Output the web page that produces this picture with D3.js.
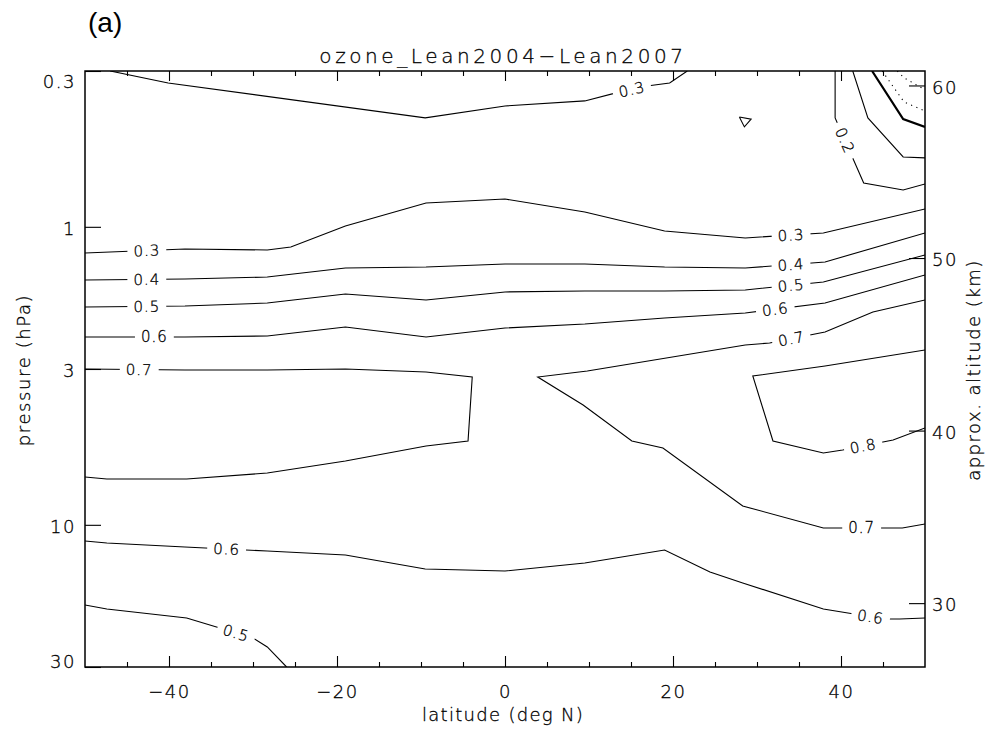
<!DOCTYPE html>
<html>
<head>
<meta charset="utf-8">
<script src="https://cdn.jsdelivr.net/npm/d3@7"></script>
<style>
  body { margin: 0; background: #fff; }
  svg text { font-family: "DejaVu Sans", sans-serif; font-weight: 200; stroke: #000; stroke-width: 0.3px; }
</style>
</head>
<body>
<svg id="chart" width="990" height="735"></svg>
<script>

// DATA -----------------------------------------------------------------------
// every contour is a list of [latitude (deg N), pressure (hPa)] vertices

var c03top  = [[-47.0,0.3],[-40.1,0.329],[-9.5,0.431],[0,0.393],[9.5,0.378],[13.1,0.356],[16.9,0.337],[19.6,0.329],[21.7,0.3]];
var c03mid  = [[-50,1.224],[-38.1,1.187],[-28.3,1.196],[-25.5,1.169],[-19.0,0.994],[-9.4,0.832],[0,0.807],[9.5,0.892],[19.0,1.033],[28.6,1.09],[37.9,1.049],[50,0.871]];
var c03cell = [[27.9,0.428],[29.3,0.435],[28.5,0.462],[27.9,0.428]];
var c04     = [[-50,1.508],[-38.1,1.496],[-28.3,1.474],[-19.0,1.375],[-9.4,1.364],[0,1.333],[9.5,1.333],[19.0,1.364],[28.6,1.375],[38.1,1.312],[50,1.049]];
var c05up   = [[-50,1.858],[-38.1,1.844],[-28.3,1.802],[-19.0,1.68],[-9.4,1.76],[0,1.654],[9.5,1.642],[19.0,1.642],[28.6,1.629],[37.9,1.532],[50,1.243]];
var c06up   = [[-50,2.343],[-38.1,2.343],[-28.3,2.325],[-19.0,2.169],[-9.4,2.343],[0,2.185],[9.5,2.119],[19.0,2.023],[28.6,1.946],[38.1,1.802],[50,1.451]];
var c07west = [[-50,3.0],[-38.1,3.023],[-28.3,3.023],[-19.0,3.0],[-9.4,3.07],[-3.9,3.191],[-4.4,5.232],[-9.4,5.438],[-19.0,6.107],[-28.3,6.70],[-37.9,7.018],[-47.4,7.018],[-50,6.91]];
var c07east = [[50,1.76],[43.8,1.931],[38.1,2.254],[31.5,2.454],[28.6,2.493],[9.8,3.046],[3.9,3.191],[9.3,3.962],[15.1,5.232],[18.8,5.523],[28.3,8.646],[37.9,10.25],[47.3,10.25],[50,9.94]];
var c08     = [[50,2.59],[38.1,2.931],[29.5,3.167],[31.9,5.232],[37.9,5.741],[40.2,5.609],[45.0,5.274],[46.2,5.193],[50,4.732]];
var c06low  = [[-50,11.33],[-47.4,11.51],[-38.1,11.87],[-28.3,12.24],[-19.0,12.63],[-9.5,14.07],[0,14.29],[9.5,13.43],[19.0,12.15],[24.4,14.40],[28.3,15.67],[37.9,19.17],[45.2,20.70],[47.0,20.70],[50,20.54]];
var c05low  = [[-50,18.58],[-47.4,19.17],[-37.9,20.54],[-30.0,23.97],[-28.3,25.70],[-26.0,30]];
var c02     = [[39.3,0.3],[39.3,0.431],[42.7,0.713],[47.4,0.752],[50,0.718]];
var c01     = [[41.4,0.3],[43.2,0.431],[47.4,0.583],[50,0.587]];
var c00     = [[43.7,0.3],[47.4,0.435],[50,0.462]];
var cm01    = [[44.9,0.3],[47.5,0.381],[50,0.409]];
var cm02    = [[46.7,0.3],[47.5,0.316],[50,0.347]];

var contours = [
    {level: 0.3, pts: c03top}, {level: 0.3, pts: c03mid}, {level: 0.3, pts: c03cell},
    {level: 0.4, pts: c04}, {level: 0.5, pts: c05up}, {level: 0.6, pts: c06up},
    {level: 0.7, pts: c07west}, {level: 0.7, pts: c07east}, {level: 0.8, pts: c08},
    {level: 0.6, pts: c06low}, {level: 0.5, pts: c05low},
    {level: 0.2, pts: c02}, {level: 0.1, pts: c01}, {level: 0.0, pts: c00},
    {level: -0.1, pts: cm01}, {level: -0.2, pts: cm02}
];

// contour labels: [lat, p, level]
var labelPts = [
    [15.0, 0.342, 0.3], [-42.7, 1.196, 0.3], [34.0, 1.065, 0.3],
    [-42.7, 1.496, 0.4], [34.0, 1.354, 0.4],
    [-42.7, 1.844, 0.5], [34.0, 1.58, 0.5],
    [-41.8, 2.343, 0.6], [32.1, 1.873, 0.6],
    [-43.6, 3.023, 0.7], [34.0, 2.361, 0.7], [42.4, 10.25, 0.7],
    [42.6, 5.48, 0.8],
    [-33.2, 12.06, 0.6], [43.5, 20.07, 0.6],
    [-32.0, 22.72, 0.5],
    [40.5, 0.511, 0.2]
];

var latMajor = [-40, -20, 0, 20, 40];
var latMinor = [-45, -35, -30, -25, -15, -10, -5, 5, 10, 15, 25, 30, 35, 45];
var pTicks = [0.3, 1, 3, 10, 30];
var pTickLabels = ["0.3", "1", "3", "10", "30"];
var altTicks = [30, 40, 50, 60];


// SCALES ---------------------------------------------------------------------

var svg = d3.select("#chart");
var plotL = 85, plotR = 925, plotT = 71, plotB = 667;

var x = d3.scaleLinear().domain([-50, 50]).range([plotL, plotR]);
var y = d3.scaleLog().domain([0.3, 30]).range([plotT, plotB]);
var H = 7.5; // scale height used for the approx. altitude axis
function altOf(p) { return H * Math.log(1000 / p); }
var yAlt = d3.scaleLinear().domain([altOf(0.3), altOf(30)]).range([plotT, plotB]);


// CONTOURS -------------------------------------------------------------------

svg.append("clipPath").attr("id", "plotClip")
   .append("rect").attr("x", plotL).attr("y", plotT)
   .attr("width", plotR - plotL).attr("height", plotB - plotT);

var line = d3.line().x(function(d) { return x(d[0]); }).y(function(d) { return y(d[1]); });

svg.append("g").attr("clip-path", "url(#plotClip)")
   .selectAll("path").data(contours).enter()
   .append("path")
   .attr("d", function(d) { return line(d.pts); })
   .attr("fill", "none")
   .attr("stroke", "#000")
   .attr("stroke-width", function(d) { return d.level === 0 ? 2.2 : 1.1; })
   .attr("stroke-dasharray", function(d) { return d.level < 0 ? "1.2,4.5" : null; });

// put each label on the nearest segment of a contour with the same level
function placeLabel(lp) {
    var px = x(lp[0]), py = y(lp[1]);
    var best = null;
    contours.forEach(function(c) {
        if (Math.abs(c.level - lp[2]) > 1e-9) return;
        for (var i = 0; i < c.pts.length - 1; i++) {
            var ax = x(c.pts[i][0]), ay = y(c.pts[i][1]);
            var bx = x(c.pts[i+1][0]), by = y(c.pts[i+1][1]);
            var dx = bx - ax, dy = by - ay;
            var t = ((px - ax) * dx + (py - ay) * dy) / (dx * dx + dy * dy);
            t = Math.max(0, Math.min(1, t));
            var qx = ax + t * dx, qy = ay + t * dy;
            var dist = Math.hypot(px - qx, py - qy);
            if (!best || dist < best.dist) {
                var ang = Math.atan2(dy, dx) * 180 / Math.PI;
                if (ang > 90) ang -= 180;
                if (ang < -90) ang += 180;
                best = {dist: dist, x: qx, y: qy, angle: ang};
            }
        }
    });
    return best;
}

var fmtLevel = d3.format(".1f");
var labels = svg.append("g").selectAll("g").data(labelPts).enter()
    .append("g")
    .attr("transform", function(d) {
        var q = placeLabel(d);
        return "translate(" + q.x + "," + q.y + ") rotate(" + q.angle + ")";
    });
labels.append("rect").attr("fill", "#fff");
labels.append("text")
    .attr("text-anchor", "middle")
    .attr("dx", 0.5)
    .attr("dy", "0.36em")
    .attr("font-size", 15)
    .attr("letter-spacing", 1)
    .text(function(d) { return fmtLevel(d[2]); });
labels.each(function() {
    var g = d3.select(this);
    var bb = g.select("text").node().getBBox();
    g.select("rect").attr("x", bb.x - 6).attr("width", bb.width + 12)
        .attr("y", -6).attr("height", 12);
});


// AXES -----------------------------------------------------------------------

function fmtLat(d) { return d < 0 ? "\u2212" + Math.abs(d) : String(d); }
function styleAxis(g) {
    g.select(".domain").remove();
    g.selectAll("line").attr("stroke", "#000").attr("stroke-width", 1.1);
    g.attr("font-family", null).attr("font-size", 18);
    g.selectAll("text").attr("letter-spacing", 1.5).attr("fill", "#000");
}

svg.append("g").attr("transform", "translate(0," + plotB + ")")
   .call(d3.axisBottom(x).tickValues(latMinor).tickSize(-5).tickFormat(""))
   .call(styleAxis);
svg.append("g").attr("transform", "translate(0," + plotB + ")")
   .call(d3.axisBottom(x).tickValues(latMajor).tickSize(-11).tickPadding(18).tickFormat(fmtLat))
   .call(styleAxis);
svg.append("g").attr("transform", "translate(0," + plotT + ")")
   .call(d3.axisTop(x).tickValues(latMinor).tickSize(-5).tickFormat(""))
   .call(styleAxis);
svg.append("g").attr("transform", "translate(0," + plotT + ")")
   .call(d3.axisTop(x).tickValues(latMajor).tickSize(-10).tickFormat(""))
   .call(styleAxis);

var yAxisG = svg.append("g").attr("transform", "translate(" + plotL + ",0)")
   .call(d3.axisLeft(y).tickValues(pTicks).tickSize(-16).tickPadding(9)
         .tickFormat(function(d, i) { return pTickLabels[i]; }))
   .call(styleAxis);
// IDL keeps the end labels inside the axis range
yAxisG.selectAll(".tick text").attr("y", function(d) {
    return d === 0.3 ? 11 : (d === 30 ? -5 : 2);
});

svg.append("g").attr("transform", "translate(" + plotR + ",0)")
   .call(d3.axisRight(yAlt).tickValues(altTicks).tickSize(-16).tickPadding(7))
   .call(styleAxis)
   .selectAll(".tick text").attr("y", 2);

// frame
svg.append("rect")
   .attr("x", plotL).attr("y", plotT)
   .attr("width", plotR - plotL).attr("height", plotB - plotT)
   .attr("fill", "none").attr("stroke", "#000").attr("stroke-width", 1.5);


// TITLES ---------------------------------------------------------------------

svg.append("text")
   .attr("x", 88).attr("y", 32)
   .attr("font-size", 28)
   .style("font-family", "'Liberation Sans', Arial, sans-serif")
   .style("font-weight", 400)
   .style("stroke", "none")
   .text("(a)");

svg.append("text")
   .attr("x", 503).attr("y", 63)
   .attr("text-anchor", "middle")
   .attr("font-size", 20)
   .attr("letter-spacing", 3.6)
   .text("ozone_Lean2004\u2212Lean2007");

svg.append("text")
   .attr("x", 503).attr("y", 721)
   .attr("text-anchor", "middle")
   .attr("font-size", 18)
   .attr("letter-spacing", 1.3)
   .text("latitude (deg N)");

svg.append("text")
   .attr("transform", "translate(30,370) rotate(-90)")
   .attr("text-anchor", "middle")
   .attr("font-size", 18)
   .attr("letter-spacing", 1.6)
   .text("pressure (hPa)");

svg.append("text")
   .attr("transform", "translate(980,370) rotate(-90)")
   .attr("text-anchor", "middle")
   .attr("font-size", 18)
   .attr("letter-spacing", 1.5)
   .text("approx. altitude (km)");

</script>
</body>
</html>
